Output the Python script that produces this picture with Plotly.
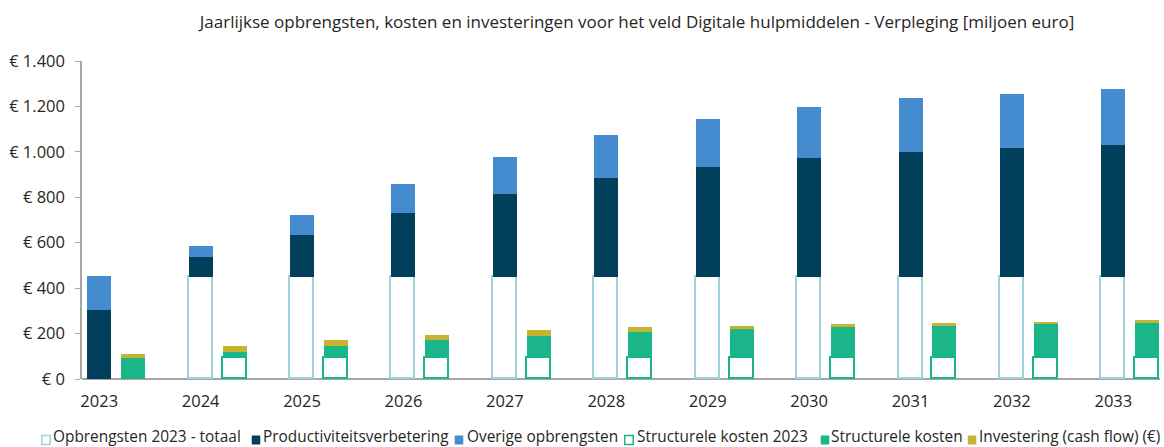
import plotly.graph_objects as go

years = [2023, 2024, 2025, 2026, 2027, 2028, 2029, 2030, 2031, 2032, 2033]
opbrengsten_2023 = [None, 448, 448, 448, 448, 448, 448, 448, 448, 448, 448]
productiviteit = [305, 89, 185, 282, 365, 436, 487, 527, 552, 571, 584]
overige = [147, 49, 91, 127, 166, 192, 211, 222, 236, 237, 243]
struct_kosten_2023 = [None, 93, 93, 93, 93, 93, 93, 93, 93, 93, 93]
struct_kosten = [94, 26, 51, 77, 96, 116, 129, 136, 142, 149, 154]
investering = [18, 25, 26, 25, 25, 20, 13, 12, 12, 10, 11]

y_ticks = [0, 200, 400, 600, 800, 1000, 1200, 1400]
y_ticktext = ["€ 0", "€ 200", "€ 400", "€ 600", "€ 800", "€ 1.000", "€ 1.200", "€ 1.400"]

series_names = ["Opbrengsten 2023 - totaal", "Productiviteitsverbetering", "Overige opbrengsten",
                "Structurele kosten 2023", "Structurele kosten", "Investering (cash flow) (€)"]
fills = ["white", "#023F5A", "#448CCF", "white", "#1BB58A", "#C5B332"]
outlines = ["#9FD2DC", "#023F5A", "#448CCF", "#1BB58A", "#1BB58A", "#C5B332"]

W, H = 1164, 447
ML, MR, MT, MB = 82, 4, 61, 68
PW, PH = W - ML - MR, H - MT - MB
FONT = "Open Sans, Noto Sans, sans-serif"
TXT = "#262626"

BAR_W = 0.237
SHIFT = 0.334
x_left = years
x_right = [y + SHIFT for y in years]

data_left = [opbrengsten_2023, productiviteit, overige]
data_right = [struct_kosten_2023, struct_kosten, investering]

fig = go.Figure()
for i, vals in enumerate(data_left + data_right):
    xs = x_left if i < 3 else x_right
    lw = 1.8 if fills[i] == "white" else 0
    fig.add_trace(go.Bar(name=series_names[i], x=xs, y=vals, width=BAR_W, showlegend=False,
                         hoverinfo="skip",
                         marker=dict(color=fills[i], line=dict(color=outlines[i], width=lw))))


def px_x(p):
    return (p - ML) / PW


def px_y(p):
    return (H - MB - p) / PH


# Manual legend (symbol left edge, text left edge) in pixels
legend_sym_x = [41, 251, 454, 624, 820, 967]
legend_txt_x = [53, 263, 467, 637, 831, 979]
legend_sym_y = 440
legend_txt_y = 436
shapes = []
annotations = []
for i, name in enumerate(series_names):
    x0 = legend_sym_x[i]
    shapes.append(dict(type="rect", xref="paper", yref="paper",
                       x0=px_x(x0 + 0.75), x1=px_x(x0 + 9.25),
                       y0=px_y(legend_sym_y + 4.5), y1=px_y(legend_sym_y - 4.5),
                       fillcolor=fills[i], line=dict(color=outlines[i], width=1.5 if fills[i] == "white" else 0)))
    annotations.append(dict(text=name, xref="paper", yref="paper", x=px_x(legend_txt_x[i] - 2), y=px_y(legend_txt_y),
                            xanchor="left", yanchor="middle", showarrow=False,
                            font=dict(family=FONT, size=15.4, color=TXT)))

fig.update_layout(
    barmode="stack",
    width=W, height=H,
    margin=dict(l=ML, r=MR, t=MT, b=MB, autoexpand=False),
    paper_bgcolor="white", plot_bgcolor="white",
    font=dict(family=FONT, size=15, color=TXT),
    title=dict(text="Jaarlijkse opbrengsten, kosten en investeringen voor het veld Digitale hulpmiddelen - Verpleging [miljoen euro]",
               x=637 / W, xanchor="center", y=1 - 22 / H, yanchor="middle",
               font=dict(family=FONT, size=17, color=TXT)),
    showlegend=False,
    shapes=shapes,
    annotations=annotations,
    bargap=0,
)
fig.update_xaxes(range=[years[0] - 0.17, years[-1] + 0.46], tickmode="array", tickvals=years,
                 ticktext=[str(y) for y in years], showgrid=False, zeroline=False,
                 showline=False, ticks="", tickfont=dict(size=16.5), ticklabelstandoff=10,
                 automargin=False)
fig.update_yaxes(range=[0, 1400], tickmode="array", tickvals=y_ticks, ticktext=y_ticktext,
                 showgrid=False, zeroline=True, zerolinecolor="#A6A6A6", zerolinewidth=2,
                 showline=True, linecolor="#A6A6A6", linewidth=1.5,
                 ticks="outside", ticklen=5, tickcolor="#A6A6A6", tickfont=dict(size=16.5),
                 ticklabelstandoff=7, automargin=False)

fig.write_html("out.html", config={"displayModeBar": False},
               post_script="document.body.style.margin='0';document.body.style.overflow='hidden';")
